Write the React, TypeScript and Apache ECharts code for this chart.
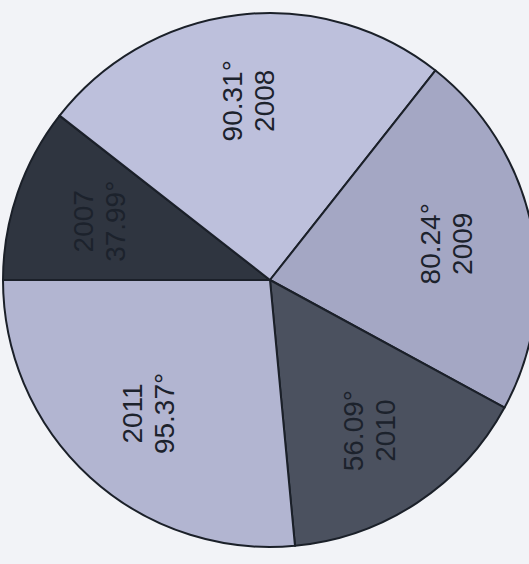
import React, { useEffect, useRef } from "react";
import * as echarts from "echarts";

const years = ["2007", "2008", "2009", "2010", "2011"];
const degrees = [37.99, 90.31, 80.24, 56.09, 95.37];
const valueFirst = [false, true, true, true, false];
const sliceColors = ["#2f3540", "#bdc0dc", "#a4a7c4", "#4b515f", "#b2b5d1"];

export default function App() {
  const ref = useRef<HTMLDivElement>(null);
  useEffect(() => {
    if (!ref.current) return;
    const chart = echarts.init(ref.current, null, { renderer: "svg" });
    const center = [270, 280];
    const R = 267;
    const baseData = years.map((y, i) => ({
      name: y,
      value: degrees[i],
      itemStyle: { color: sliceColors[i] },
    }));
    const labelData = years.map((y, i) => ({
      name: y,
      value: degrees[i],
      label: {
        formatter: valueFirst[i] ? `${degrees[i].toFixed(2)}°\n${y}` : `${y}\n${degrees[i].toFixed(2)}°`,
      },
    }));
    chart.setOption({
      animation: false,
      backgroundColor: "#f2f3f7",
      series: [
        {
          type: "pie",
          center,
          radius: R,
          startAngle: 180,
          clockwise: true,
          silent: true,
          label: { show: false },
          labelLine: { show: false },
          itemStyle: { borderColor: "#1b2029", borderWidth: 2 },
          data: baseData,
        },
        {
          type: "pie",
          center,
          radius: [88, R],
          startAngle: 180,
          clockwise: true,
          silent: true,
          itemStyle: { color: "rgba(0,0,0,0)", borderWidth: 0 },
          labelLine: { show: false },
          label: {
            show: true,
            position: "inside",
            rotate: 90,
            color: "#1c222c",
            fontFamily: "Liberation Sans, Arial, sans-serif",
            fontSize: 28,
            lineHeight: 32,
            align: "center",
          },
          data: labelData,
        },
      ],
    });
    return () => chart.dispose();
  }, []);
  return (
    <div
      ref={ref}
      style={{ position: "absolute", left: 0, top: 0, width: 529, height: 564 }}
    />
  );
}
